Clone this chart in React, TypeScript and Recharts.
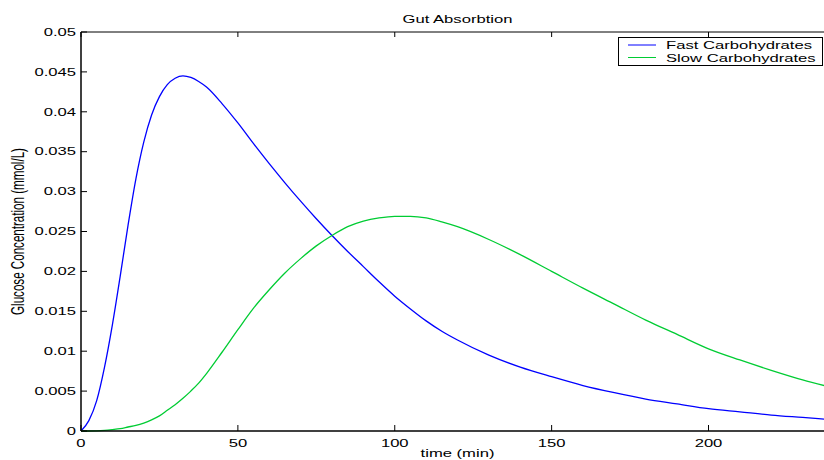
import React from "react";
import { LineChart, Line, XAxis, YAxis, Legend, Label } from "recharts";

// sample times (min)
const times = [
  0, 2.5, 5, 7.5, 10, 12.5, 15, 17.5, 20, 22.5, 25, 27.5, 30, 32.5, 35, 37.5, 40, 45, 50, 55, 60, 65, 70, 75,
  80, 85, 90, 95, 100, 105, 110, 115, 120, 130, 140, 150, 160, 170, 180, 190, 200, 210, 220, 230, 240,
];

const fastCarbs = [
  0, 0.0013, 0.0038, 0.008, 0.0133, 0.0194, 0.0258, 0.0316, 0.0362, 0.0396, 0.0419, 0.0434, 0.0442, 0.0445,
  0.0443, 0.0438, 0.0431, 0.041, 0.0386, 0.036, 0.0335, 0.0311, 0.0288, 0.0266, 0.0245, 0.0225, 0.0206, 0.0187,
  0.0169, 0.0153, 0.0138, 0.0125, 0.0114, 0.0095, 0.008, 0.0068, 0.0057, 0.0048, 0.004, 0.0034, 0.0028, 0.0024,
  0.002, 0.0017, 0.0014,
];

const slowCarbs = [
  0, 0, 0.00002, 0.00008, 0.00018, 0.0003, 0.0005, 0.0007, 0.001, 0.0014, 0.0019, 0.0026, 0.0033, 0.0041, 0.005,
  0.006, 0.0072, 0.0099, 0.0127, 0.0154, 0.0177, 0.0198, 0.0216, 0.0232, 0.0245, 0.0256, 0.0263, 0.0267, 0.0269,
  0.0269, 0.0267, 0.0262, 0.0256, 0.024, 0.0221, 0.02, 0.0179, 0.0159, 0.0139, 0.0121, 0.0103, 0.0089, 0.0076,
  0.0064, 0.0054,
];

const xTicks = [0, 50, 100, 150, 200];
const yTicks = [0, 0.005, 0.01, 0.015, 0.02, 0.025, 0.03, 0.035, 0.04, 0.045, 0.05];

const data = times.map((t, i) => ({ t, fast: fastCarbs[i], slow: slowCarbs[i] }));

const FONT = "'Liberation Sans', Arial, Helvetica, sans-serif";
const FS = 10.4;
const STRETCH = 1.6; // the reference's text is wide and flat

function Txt({ x, y, anchor = "start", rotate = false, size = FS, children }: any) {
  return (
    <text
      transform={`translate(${x},${y}) scale(${STRETCH},1)${rotate ? " rotate(-90)" : ""}`}
      textAnchor={anchor}
      fontFamily={FONT}
      fontSize={size}
      fill="#000"
    >
      {children}
    </text>
  );
}

const YTick = ({ x, y, payload }: any) => (
  <g>
    <line x1={x} x2={x + 6} y1={y} y2={y} stroke="#000" />
    <Txt x={x - 5} y={y + 3.7} anchor="end">
      {String(payload.value)}
    </Txt>
  </g>
);

const XTick = ({ x, y, payload }: any) => (
  <g>
    <line x1={x} x2={x} y1={y} y2={y - 6} stroke="#000" />
    <Txt x={x} y={y + 15.5} anchor="middle">
      {String(payload.value)}
    </Txt>
  </g>
);

const TopTick = ({ x, y }: any) => <line x1={x} x2={x} y1={y} y2={y + 5} stroke="#000" />;

const renderLegend = (props: any) => {
  const items = props.payload || [];
  return (
    <div style={{ width: 205, height: 29, boxSizing: "border-box", border: "1.5px solid #000", background: "#fff" }}>
      <svg width={202} height={26} style={{ display: "block" }}>
        {items.map((it: any, i: number) => (
          <g key={i}>
            <line x1={9} x2={37} y1={7 + i * 12.5} y2={7 + i * 12.5} stroke={it.color} strokeWidth={1} />
            <Txt x={47} y={11 + i * 12.5}>
              {it.value}
            </Txt>
          </g>
        ))}
      </svg>
    </div>
  );
};

export default function App() {
  return (
    <div style={{ position: "absolute", left: 0, top: 0, width: 824, height: 460, overflow: "hidden", background: "#fff" }}>
      <LineChart width={834} height={460} data={data} margin={{ top: 31, right: 0, bottom: 0, left: 80 }}>
        <XAxis
          dataKey="t"
          type="number"
          domain={[0, 240]}
          ticks={xTicks}
          height={29}
          tickSize={0}
          tickMargin={0}
          tickLine={false}
          tick={<XTick />}
          axisLine={{ stroke: "#000", strokeWidth: 1.5 }}
          allowDataOverflow
        >
          <Label
            content={({ viewBox }: any) => (
              <Txt x={viewBox.x + viewBox.width / 2} y={viewBox.y + 26} anchor="middle">
                time (min)
              </Txt>
            )}
          />
        </XAxis>
        <XAxis
          xAxisId="top"
          dataKey="t"
          type="number"
          orientation="top"
          domain={[0, 240]}
          ticks={xTicks}
          height={1}
          tickSize={0}
          tickMargin={0}
          tickLine={false}
          tick={<TopTick />}
          axisLine={{ stroke: "#000", strokeWidth: 1 }}
        >
          <Label
            content={({ viewBox }: any) => (
              <Txt x={viewBox.x + viewBox.width / 2} y={viewBox.y - 8} anchor="middle">
                Gut Absorbtion
              </Txt>
            )}
          />
        </XAxis>
        <YAxis
          type="number"
          domain={[0, 0.05]}
          ticks={yTicks}
          width={1}
          tickSize={0}
          tickMargin={0}
          tickLine={false}
          tick={<YTick />}
          axisLine={{ stroke: "#000", strokeWidth: 1.5 }}
        >
          <Label
            content={({ viewBox }: any) => (
              <Txt x={24} y={viewBox.y + viewBox.height / 2} anchor="middle" rotate size={11.6}>
                Glucose Concentration (mmol/L)
              </Txt>
            )}
          />
        </YAxis>
        <Legend
          layout="vertical"
          align="center"
          verticalAlign="middle"
          content={renderLegend}
          wrapperStyle={{ left: 618, top: 37, width: 205, height: 29 }}
        />
        <Line
          type="monotone"
          dataKey="fast"
          name="Fast Carbohydrates"
          stroke="#0000ff"
          strokeWidth={1.3}
          dot={false}
          isAnimationActive={false}
        />
        <Line
          type="monotone"
          dataKey="slow"
          name="Slow Carbohydrates"
          stroke="#00cc33"
          strokeWidth={1.3}
          dot={false}
          isAnimationActive={false}
        />
      </LineChart>
    </div>
  );
}
